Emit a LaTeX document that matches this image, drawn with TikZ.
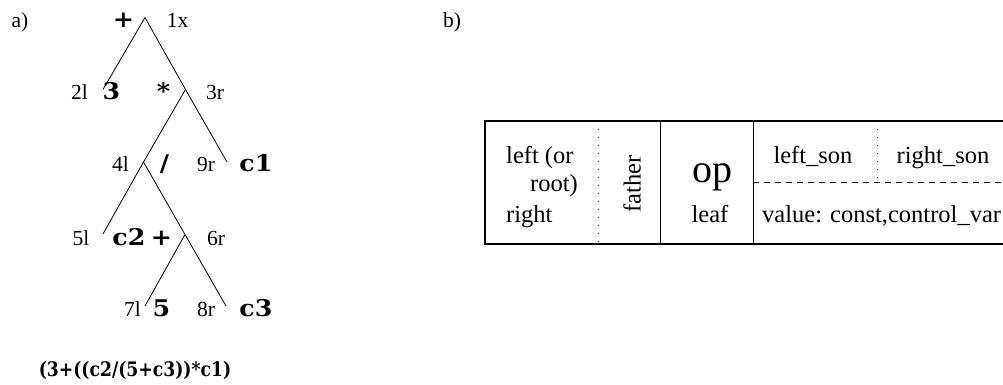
\documentclass[tikz,border=0pt]{standalone}
\usepackage{fontspec}
\setmainfont{Liberation Serif}
\newfontfamily\tbwide{DejaVu Serif}[FakeStretch=1.1]
\newfontfamily\tbnarrow{DejaVu Serif}[FakeStretch=0.86]
\tikzset{
  lbl/.style={inner sep=0pt, anchor=base, font=\fontsize{21.5}{25}\selectfont},
  bld/.style={inner sep=0pt, anchor=base, font=\tbwide\bfseries\fontsize{23}{27}\selectfont},
  expr/.style={inner sep=0pt, anchor=base, font=\tbnarrow\bfseries\fontsize{20}{24}\selectfont},
  tx/.style={inner sep=0pt, anchor=base, font=\fontsize{24.5}{29}\selectfont},
  edge/.style={line width=0.8pt},
  frame/.style={line width=2pt},
  sep/.style={line width=0.8pt},
  dots/.style={line width=0.9pt, dash pattern=on 1pt off 7pt},
  dashes/.style={line width=0.8pt, dash pattern=on 6pt off 5pt}
}
\begin{document}
\begin{tikzpicture}[x=1pt,y=-1pt]
\useasboundingbox (0,0) rectangle (1003,385);
\clip (0,0) rectangle (1003,385);
% ---------- a) tree ----------
\node[lbl] (la) at (20,28) {a)};
\coordinate (r0) at (145,17.5);
\coordinate (ea) at (103,89.5);
\coordinate (n1) at (185.5,89.5);
\coordinate (eb) at (227,162);
\coordinate (n2) at (143.5,162);
\coordinate (ec) at (103,234);
\coordinate (n3) at (185,234.5);
\coordinate (ed) at (145,306);
\coordinate (ee) at (226,306);
\draw[edge] (ea) -- (r0) -- (n1) -- (eb);
\draw[edge] (n1) -- (n2) -- (ec);
\draw[edge] (n2) -- (n3) -- (ee);
\draw[edge] (n3) -- (ed);
% level 0
\node[bld] (op0) at (123.5,28) {+};
\node[lbl] (t1x) at (177.5,28) {1x};
% level 1
\node[lbl] (t2l) at (79.5,100) {2l};
\node[bld] (v3) at (111.5,100) {3};
\node[bld] (op1) at (163.5,100) {*};
\node[lbl] (t3r) at (215,100) {3r};
% level 2
\node[lbl] (t4l) at (120.5,171.5) {4l};
\node[bld] (op2) at (164.5,171.5) {/};
\node[lbl] (t9r) at (206,171.5) {9r};
\node[bld] (vc1) at (256,171.5) {c1};
% level 3
\node[lbl] (t5l) at (81,245) {5l};
\node[bld] (vc2) at (129,245) {c2};
\node[bld] (op3) at (161.5,245) {+};
\node[lbl] (t6r) at (216,245) {6r};
% level 4
\node[lbl] (t7l) at (132.5,316) {7l};
\node[bld] (v5) at (161.5,316) {5};
\node[lbl] (t8r) at (206,316) {8r};
\node[bld] (vc3) at (256,316) {c3};
% expression
\node[expr] (ex) at (135,376) {(3+((c2/(5+c3))*c1)};
% ---------- b) record ----------
\node[lbl] (lb) at (452,28) {b)};
\coordinate (tl) at (485,121);
\coordinate (br) at (1012,244);
\coordinate (d1t) at (598,121);
\coordinate (d1b) at (598,244);
\coordinate (s1t) at (660,121);
\coordinate (s1b) at (660,244);
\coordinate (s2t) at (753,121);
\coordinate (s2b) at (753,244);
\coordinate (hl) at (753,182);
\coordinate (hr) at (1012,182);
\coordinate (d2t) at (877,121);
\coordinate (d2b) at (877,182);
\draw[sep] (s1t) -- (s1b);
\draw[sep] (s2t) -- (s2b);
\draw[dots] (d1t) -- (d1b);
\draw[dots] (d2t) -- (d2b);
\draw[dashes] (hl) -- (hr);
\draw[frame] (tl) rectangle (br);
\node[tx, anchor=base west] (tleft) at (506,163) {left (or};
\node[tx, anchor=base east] (troot) at (578,191) {root)};
\node[tx, anchor=base west] (tright) at (506,222) {right};
\node[tx, anchor=center, rotate=90] (tfather) at (632,184) {father};
\node[inner sep=0pt, anchor=base, font=\fontsize{40}{46}\selectfont] (top) at (712,182) {op};
\node[tx] (tleaf) at (710,222) {leaf};
\node[tx] (tls) at (813,163) {left\_son};
\node[tx] (trs) at (943,163) {right\_son};
\node[tx, anchor=base west] (tval) at (762,222) {value: const,control\_var};
\end{tikzpicture}
\end{document}
